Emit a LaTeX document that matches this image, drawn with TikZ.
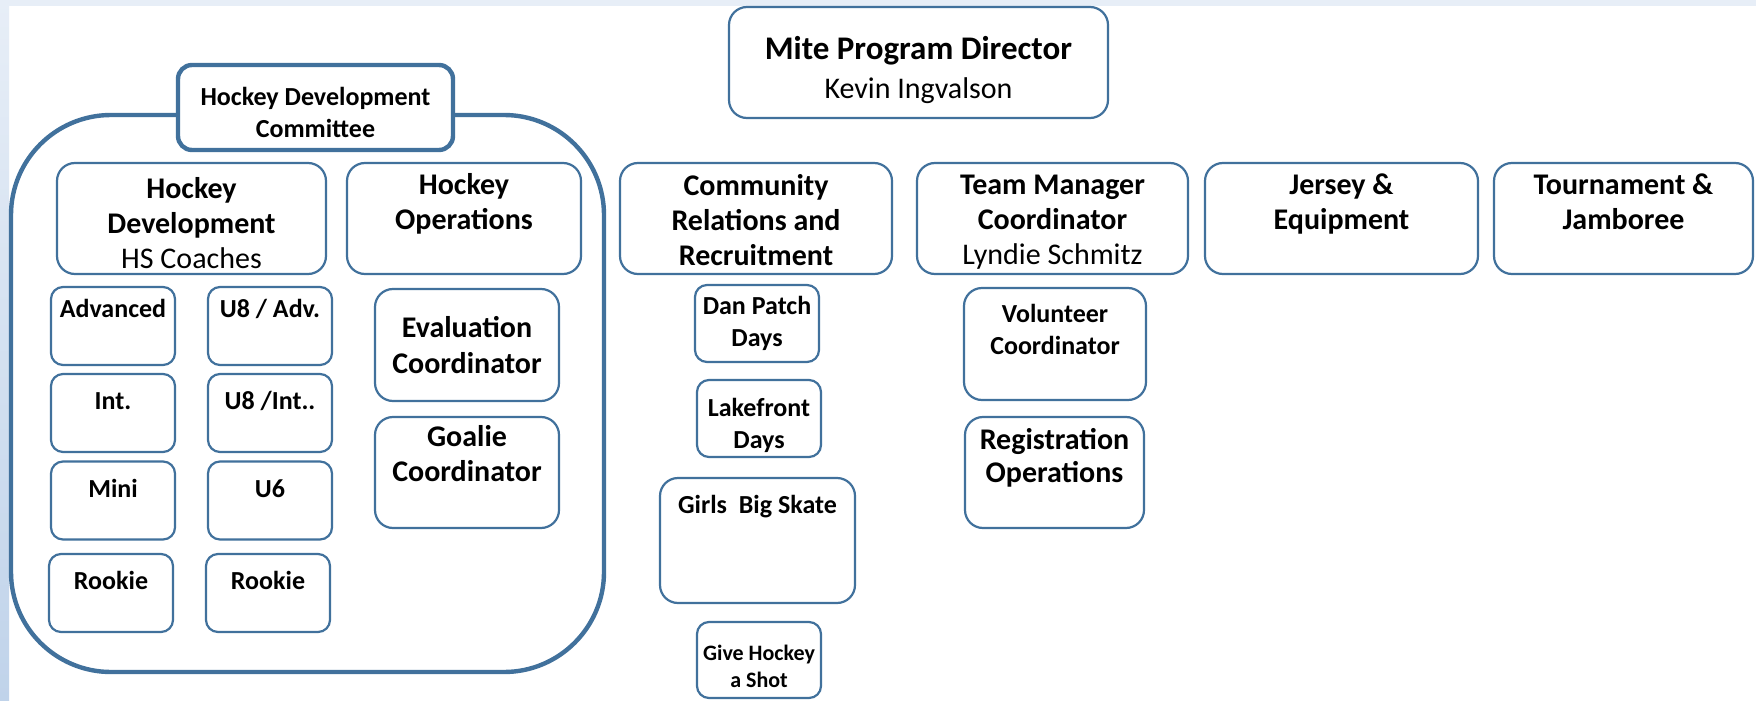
\documentclass[tikz,border=0pt]{standalone}
\usepackage{fontspec}
\setmainfont{Carlito}
\usetikzlibrary{positioning}
\definecolor{chartblue}{RGB}{65,113,156}
\definecolor{slidetint}{RGB}{231,238,247}
\definecolor{slideedge}{RGB}{192,211,234}

\begin{document}
\begin{tikzpicture}[x=0.5pt,y=-0.5pt,
  box/.style={draw=chartblue,line width=1.1pt,fill=white,rounded corners=9pt,align=center,inner sep=0pt},
  unit/.style={box,minimum width=#1,minimum height=55.5pt,font=\fontsize{15}{17.5}\selectfont},
  cell/.style={box,rounded corners=6pt,minimum width=62pt,minimum height=39pt,font=\fontsize{13}{16}\selectfont\bfseries},
  grp/.style={draw=chartblue,line width=2.2pt,fill=white,align=center},
  plain/.style={font=\fontsize{15}{17.5}\selectfont,align=center,inner sep=0pt},
  head/.style={font=\fontsize{15}{17.5}\selectfont\bfseries,align=center,inner sep=0pt},
  sub/.style={font=\fontsize{13}{16}\selectfont\bfseries,align=center,inner sep=0pt}]
\useasboundingbox (0,0) rectangle (1756,701);
% slide background
\fill[white] (0,0) rectangle (1756,701);
\fill[slidetint] (0,0) rectangle (1756,6);
\shade[top color=slidetint,bottom color=slideedge] (0,0) rectangle (9,701);

% director
\node[box,minimum width=189.5pt,minimum height=55.5pt,
  label={[plain,anchor=center,yshift=-4pt]center:{{\fontsize{16.5}{19}\selectfont\bfseries Mite Program Director}\\[2pt]Kevin Ingvalson}}] (dir) at (918.5,62.5) {};

% development committee and its frame
\node[grp,rounded corners=50pt,minimum width=296.5pt,minimum height=278.5pt] (hdc) at (307.5,393.5) {};
\node[grp,rounded corners=7pt,minimum width=137.5pt,minimum height=42.5pt,
  label={[sub,anchor=center,yshift=-2.5pt]center:{Hockey Development\\Committee}}] (hdcom) at (315.5,107.5) {};

% second row
\node[unit=134.5pt,label={[plain,anchor=center,yshift=-2.25pt]center:{\textbf{Hockey}\\\textbf{Development}\\HS Coaches}}] (hdev) at (191.5,218.5) {};
\node[unit=117pt,label={[head,anchor=north,yshift=-5.5pt]north:{Hockey\\Operations}}] (hops) at (464,218.5) {};
\node[unit=136pt,label={[head,anchor=center,yshift=-1pt]center:{Community\\Relations and\\Recruitment}}] (comm) at (756,218.5) {};
\node[unit=135.5pt,label={[plain,anchor=center,yshift=-1.75pt]center:{\textbf{Team Manager}\\\textbf{Coordinator}\\Lyndie Schmitz}}] (team) at (1052.5,218.5) {};
\node[unit=136.5pt,label={[head,anchor=north,yshift=-5.5pt]north:{Jersey \&\\Equipment}}] (jersey) at (1341.5,218.5) {};
\node[unit=129.5pt,label={[head,anchor=north,yshift=-5.5pt]north:{Tournament \&\\Jamboree}}] (tourn) at (1623.5,218.5) {};

% age groups
\node[cell,label={[sub,anchor=base,yshift=-16pt]north:Advanced}] (adv) at (113,326) {};
\node[cell,label={[sub,anchor=base,yshift=-16pt]north:U8 / Adv.}] (uadv) at (270,326) {};
\node[cell,label={[sub,anchor=base,yshift=-18.5pt]north:Int.}] (int) at (113,413) {};
\node[cell,label={[sub,anchor=base,yshift=-18.5pt]north:U8 /Int..}] (uint) at (270,413) {};
\node[cell,label={[sub,anchor=base,yshift=-18.5pt]north:Mini}] (mini) at (113,500.5) {};
\node[cell,label={[sub,anchor=base,yshift=-18.5pt]north:U6}] (usix) at (270,500.5) {};
\node[cell,label={[sub,anchor=base,yshift=-18.5pt]north:Rookie}] (rookie) at (111,593) {};
\node[cell,label={[sub,anchor=base,yshift=-18.5pt]north:Rookie}] (urookie) at (268,593) {};

% operations coordinators
\node[box,minimum width=92pt,minimum height=56pt,font=\fontsize{15}{18}\selectfont\bfseries] (eval) at (467,345) {Evaluation\\Coordinator};
\node[box,minimum width=92pt,minimum height=55.5pt,label={[head,anchor=north,yshift=-4.5pt]north:{Goalie\\Coordinator}}] (goalie) at (467,472.5) {};

% community events
\node[cell,minimum height=38.5pt] (danpatch) at (757,323.5) {Dan Patch\\Days};
\node[cell,minimum height=38.5pt,label={[sub,anchor=center,yshift=-3.5pt]center:{Lakefront\\Days}}] (lake) at (759,418.5) {};
\node[cell,minimum width=97.5pt,minimum height=62.5pt,rounded corners=9pt,label={[sub,anchor=base,yshift=-18.5pt]north:Girls\ \ Big Skate}] (girls) at (757.5,540.5) {};
\node[cell,minimum height=38pt,label={[sub,font=\fontsize{11}{13.5}\selectfont\bfseries,anchor=center,yshift=-3pt]center:{Give Hockey\\a Shot}}] (shot) at (759,660) {};

% team manager helpers
\node[box,minimum width=91pt,minimum height=56pt,label={[sub,anchor=north,yshift=-8.5pt]north:{Volunteer\\Coordinator}}] (vol) at (1055,344) {};
\node[box,minimum width=89.5pt,minimum height=55.5pt,label={[head,font=\fontsize{15}{16.5}\selectfont\bfseries,anchor=north,yshift=-6pt]north:{Registration\\Operations}}] (reg) at (1054.5,472.5) {};
\end{tikzpicture}
\end{document}
